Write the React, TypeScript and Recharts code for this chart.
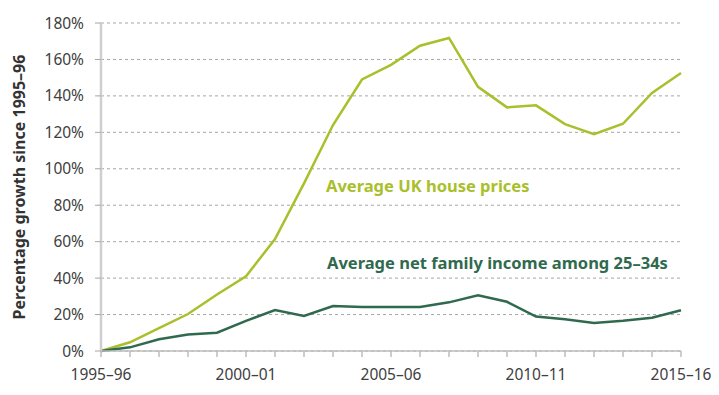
import { LineChart, Line, XAxis, YAxis, CartesianGrid, Customized } from "recharts";

const years = [
  "1995–96", "1996–97", "1997–98", "1998–99", "1999–00", "2000–01", "2001–02",
  "2002–03", "2003–04", "2004–05", "2005–06", "2006–07", "2007–08", "2008–09",
  "2009–10", "2010–11", "2011–12", "2012–13", "2013–14", "2014–15", "2015–16",
];

// % growth since 1995–96
const housePrices = [
  0, 4.8, 12.5, 20.3, 31, 41, 61.4, 92, 124, 149, 157, 167.5, 171.8, 145, 133.7,
  134.8, 124.5, 119, 124.7, 141.6, 152.6,
];

const familyIncome = [
  0, 2, 6.4, 9, 10, 16.5, 22.5, 19.2, 24.7, 24.2, 24.2, 24.2, 26.7, 30.6, 27,
  18.9, 17.4, 15.4, 16.6, 18.3, 22.4,
];

const yTicks = [0, 20, 40, 60, 80, 100, 120, 140, 160, 180];
const labelledYears = ["1995–96", "2000–01", "2005–06", "2010–11", "2015–16"];

const HOUSE = "#a9bf2b";
const INCOME = "#2f6a4e";
const FONT = "'Noto Sans', sans-serif";

const data = years.map((year, i) => ({
  year,
  house: housePrices[i],
  income: familyIncome[i],
}));

const SeriesLabels = () => (
  <g style={{ fontFamily: FONT, fontWeight: 700, fontSize: 16.5 }}>
    <text x={326} y={187} fill={HOUSE} dominantBaseline="middle">
      Average UK house prices
    </text>
    <text x={327} y={264} fill={INCOME} dominantBaseline="middle">
      Average net family income among 25–34s
    </text>
  </g>
);

export default function App() {
  return (
    <div style={{ position: "absolute", left: 0, top: 0, background: "#fff" }}>
      <LineChart
        width={719}
        height={395}
        data={data}
        margin={{ top: 23, right: 38, bottom: 14, left: 0 }}
      >
        <CartesianGrid
          vertical={false}
          stroke="#a6a6a6"
          strokeDasharray="3 3"
        />
        <XAxis
          dataKey="year"
          interval={0}
          height={30}
          stroke="#bdbdbd"
          strokeWidth={1.5}
          tickSize={6}
          tickMargin={12}
          tickFormatter={(v: string) => (labelledYears.includes(v) ? v : "")}
          tick={{ fill: "#404040", fontSize: 15.5, fontFamily: FONT }}
        />
        <YAxis
          width={101}
          domain={[0, 180]}
          ticks={yTicks}
          interval={0}
          stroke="#cfcfcf"
          strokeWidth={2.5}
          tickLine={{ stroke: "#a6a6a6", strokeWidth: 1 }}
          tickSize={6}
          tickMargin={11}
          tickFormatter={(v: number) => `${v}%`}
          tick={{ fill: "#404040", fontSize: 15.5, fontFamily: FONT }}
          label={{
            content: () => (
              <text
                x={21}
                y={187}
                transform="rotate(-90 21 187)"
                textAnchor="middle"
                dominantBaseline="middle"
                fill="#333"
                style={{ fontFamily: FONT, fontWeight: 700, fontSize: 16 }}
              >
                Percentage growth since 1995–96
              </text>
            ),
          }}
        />
        <Line
          dataKey="house"
          stroke={HOUSE}
          strokeWidth={2.5}
          dot={false}
          isAnimationActive={false}
        />
        <Line
          dataKey="income"
          stroke={INCOME}
          strokeWidth={2.5}
          dot={false}
          isAnimationActive={false}
        />
        <Customized component={SeriesLabels} />
      </LineChart>
    </div>
  );
}
